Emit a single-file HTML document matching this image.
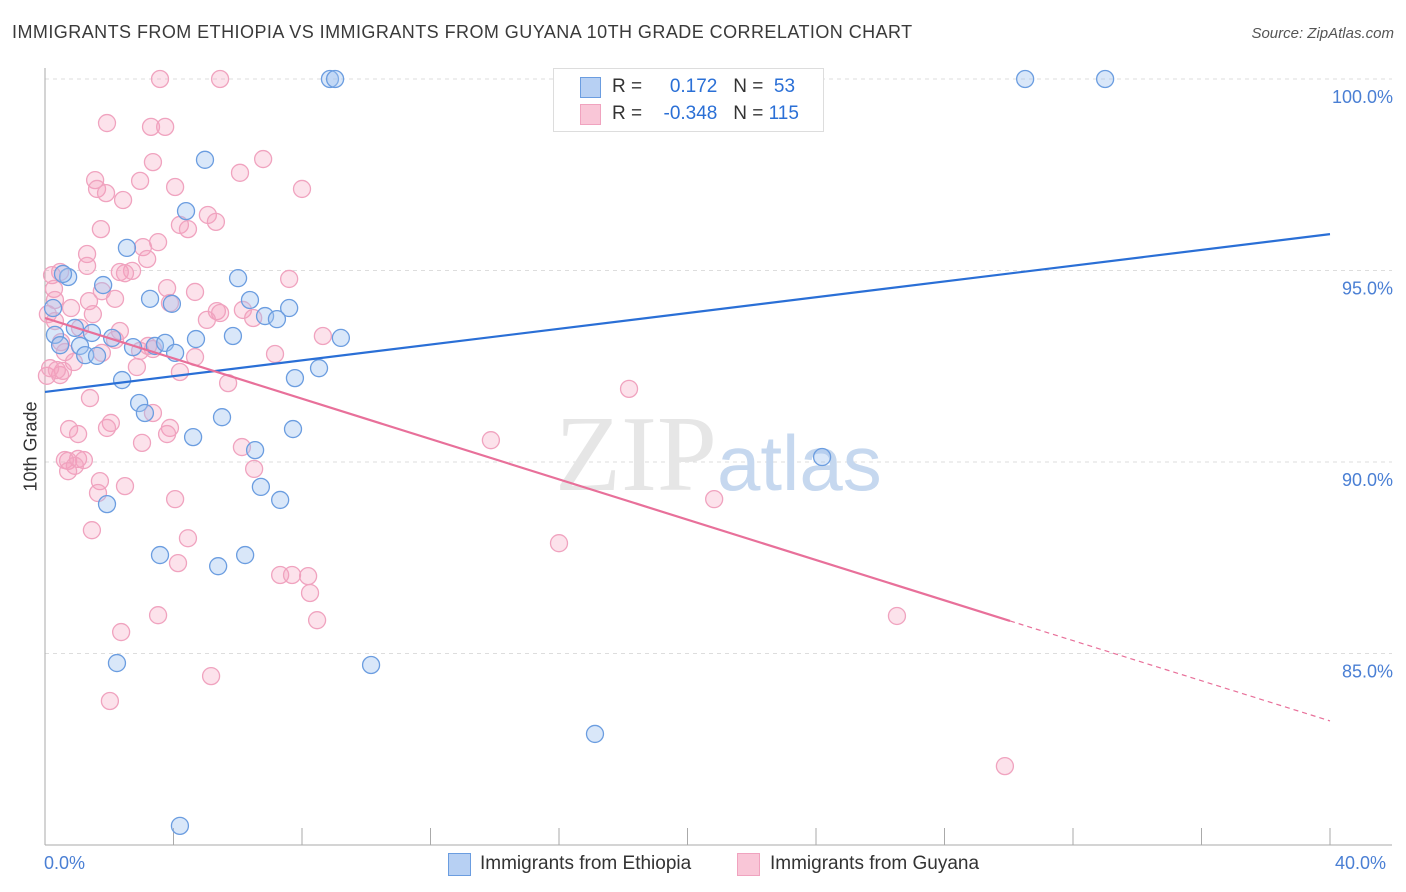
<!DOCTYPE html>
<html><head><meta charset="utf-8"><style>
body{margin:0;background:#fff;font-family:"Liberation Sans",sans-serif;}
#wrap{position:relative;width:1406px;height:892px;overflow:hidden;}
.t{position:absolute;white-space:nowrap;}
</style></head><body>
<div id="wrap">
<div class="t" style="left:12px;top:22px;font-size:18px;color:#3a3a3a;letter-spacing:0.45px">IMMIGRANTS FROM ETHIOPIA VS IMMIGRANTS FROM GUYANA 10TH GRADE CORRELATION CHART</div>
<div class="t" style="right:12px;top:25px;font-size:15px;color:#555;font-style:italic">Source: ZipAtlas.com</div>
<svg id="svg" width="1406" height="892" style="position:absolute;left:0;top:0"></svg>
</div>
<script>
const blueX=[8.87,9.03,30.51,33.0,4.98,4.39,2.55,6.01,0.72,0.56,1.81,3.27,3.95,6.38,7.60,6.85,7.22,0.25,0.31,0.93,1.46,2.09,5.85,9.21,4.70,2.74,3.42,3.74,0.47,1.09,1.25,1.62,4.05,8.53,2.40,7.78,2.93,3.11,5.51,7.72,4.61,6.54,24.19,6.72,7.32,1.93,3.58,6.23,5.39,2.24,10.15,17.12,4.20];
const blueY=[100,100,100,100,97.89,96.55,95.59,94.80,94.83,94.91,94.62,94.26,94.13,94.23,94.02,93.81,93.73,94.02,93.32,93.50,93.37,93.24,93.29,93.24,93.21,93.00,93.03,93.11,93.05,93.03,92.79,92.77,92.85,92.45,92.14,92.19,91.54,91.28,91.17,90.86,90.65,90.31,90.13,89.35,89.01,88.90,87.57,87.57,87.28,84.75,84.70,82.90,80.50];
const pinkX=[3.58,5.45,1.93,3.30,3.74,3.36,6.79,6.07,1.56,2.96,1.62,4.05,8.00,1.90,2.43,5.07,4.20,5.32,1.74,4.45,3.52,3.05,1.31,3.18,1.31,0.22,0.47,2.71,2.33,2.49,7.60,0.28,1.77,3.80,4.67,1.37,2.18,3.89,6.16,5.35,0.09,0.81,5.45,5.04,6.48,0.31,1.49,1.09,2.33,8.65,2.18,0.50,1.77,2.96,0.62,3.36,3.21,7.16,4.67,0.90,2.86,0.56,0.47,4.20,0.06,5.70,18.18,1.40,3.36,2.05,0.75,1.93,3.89,1.03,3.80,3.02,6.13,13.88,0.72,1.03,1.21,0.62,0.93,6.51,0.72,1.71,2.49,1.65,4.05,20.83,1.46,4.45,4.14,16.00,7.32,7.69,8.19,8.25,8.47,3.52,26.52,2.37,5.17,2.02,29.88,0.16,0.31,0.37];
const pinkY=[100,100,98.85,98.75,98.75,97.83,97.91,97.55,97.36,97.34,97.13,97.18,97.13,97.02,96.84,96.45,96.19,96.27,96.08,96.08,95.74,95.61,95.43,95.30,95.12,94.88,94.96,94.99,94.96,94.93,94.78,94.52,94.46,94.54,94.44,94.20,94.26,94.15,93.97,93.94,93.86,94.02,93.89,93.71,93.76,93.68,93.86,93.50,93.42,93.29,93.19,93.13,92.85,92.90,92.87,92.95,93.03,92.82,92.74,92.61,92.48,92.38,92.27,92.35,92.25,92.06,91.91,91.67,91.28,91.02,90.86,90.89,90.89,90.73,90.73,90.50,90.39,90.57,90.03,90.08,90.05,90.05,89.90,89.82,89.76,89.50,89.37,89.19,89.03,89.03,88.22,88.01,87.36,87.88,87.05,87.05,87.02,86.58,85.87,86.00,85.98,85.56,84.41,83.76,82.06,92.45,94.23,92.40];
const blueLine=[91.83,95.95];
const pinkLine=[93.76,85.85,83.24];
const pinkSolidEnd=30.04;
const yTicks=[100,95,90,85];
const yTickLabels=["100.0%","95.0%","90.0%","85.0%"];

const X=v=>45+v/40*1285;
const Y=v=>79+(100-v)*38.3;
const svg=document.getElementById('svg');
const NS='http://www.w3.org/2000/svg';
function mk(tag,attrs){const e=document.createElementNS(NS,tag);for(const k in attrs)e.setAttribute(k,attrs[k]);svg.appendChild(e);return e;}

yTicks.forEach((v,i)=>{
  const g=mk('line',{x1:45,x2:1392,y1:Y(v),y2:Y(v),stroke:'#ddd','stroke-dasharray':'4,4'});
  
  
  const t=mk('text',{x:1393,y:Y(v)+24,'text-anchor':'end','font-size':18,fill:'#4a7fd4','font-family':'Liberation Sans, sans-serif'});
  t.textContent=yTickLabels[i];
  
  
});
const ax=mk('line',{x1:45,x2:45,y1:68,y2:845,stroke:'#aaa'});


const bx=mk('line',{x1:45,x2:1392,y1:845,y2:845,stroke:'#aaa'});


for(let i=0;i<=10;i++){
  const tk=mk('line',{x1:X(i*4),x2:X(i*4),y1:828,y2:845,stroke:'#aaa'});
  
  
}
const wm=mk('text',{x:555,y:490,'text-anchor':'start','font-size':108,'font-family':'Liberation Serif, serif',fill:'#e6e6e6'});
wm.innerHTML='ZIP<tspan fill="#c6d8ef" font-family="Liberation Sans, sans-serif" font-size="78">atlas</tspan>';



pinkX.forEach((x,i)=>{
  const c=mk('circle',{cx:X(x),cy:Y(pinkY[i]),r:8.5,fill:'rgba(244,160,190,0.3)',stroke:'#f0a3bf','stroke-width':1.3});
  
  
});
blueX.forEach((x,i)=>{
  const c=mk('circle',{cx:X(x),cy:Y(blueY[i]),r:8.5,fill:'rgba(160,196,240,0.4)',stroke:'#6b9de0','stroke-width':1.3});
  
  
});
const bl=mk('line',{x1:X(0),y1:Y(blueLine[0]),x2:X(40),y2:Y(blueLine[1]),stroke:'#2a6fd6','stroke-width':2.2});


const pl=mk('line',{x1:X(0),y1:Y(pinkLine[0]),x2:X(pinkSolidEnd),y2:Y(pinkLine[1]),stroke:'#e8709a','stroke-width':2.2});


const pd=mk('line',{x1:X(pinkSolidEnd),y1:Y(pinkLine[1]),x2:X(40),y2:Y(pinkLine[2]),stroke:'#e8709a','stroke-width':1.2,'stroke-dasharray':'5,4'});


</script>
<div class="t" style="left:-4px;top:446px;font-size:18px;color:#333;transform:rotate(-90deg);transform-origin:center;width:70px;text-align:center">10th Grade</div>
<div class="t" style="left:44px;top:853px;font-size:18px;color:#4a7fd4">0.0%</div>
<div class="t" style="left:1335px;top:853px;font-size:18px;color:#4a7fd4">40.0%</div>
<div style="position:absolute;left:553px;top:68px;width:269px;height:62px;border:1px solid #ddd;background:#fff;font-size:19px">
 <div style="position:absolute;left:26px;top:8px;width:19px;height:19px;background:#b7d0f3;border:1px solid #6b9de0"></div>
 <div class="t" style="left:58px;top:7px;color:#333">R = <span style="color:#2a6fd6;display:inline-block;width:70px;text-align:right">0.172</span>&nbsp;&nbsp;&nbsp;N = <span style="color:#2a6fd6">&nbsp;53</span></div>
 <div style="position:absolute;left:26px;top:35px;width:19px;height:19px;background:#f9c6d7;border:1px solid #f0a3bf"></div>
 <div class="t" style="left:58px;top:34px;color:#333">R = <span style="color:#2a6fd6;display:inline-block;width:70px;text-align:right">-0.348</span>&nbsp;&nbsp;&nbsp;N = <span style="color:#2a6fd6">115</span></div>
</div>
<div style="position:absolute;left:448px;top:853px;width:21px;height:21px;background:#b7d0f3;border:1px solid #6b9de0"></div>
<div class="t" style="left:480px;top:853px;font-size:19px;color:#333">Immigrants from Ethiopia</div>
<div style="position:absolute;left:737px;top:853px;width:21px;height:21px;background:#f9c6d7;border:1px solid #f0a3bf"></div>
<div class="t" style="left:770px;top:853px;font-size:19px;color:#333">Immigrants from Guyana</div>
</body></html>
